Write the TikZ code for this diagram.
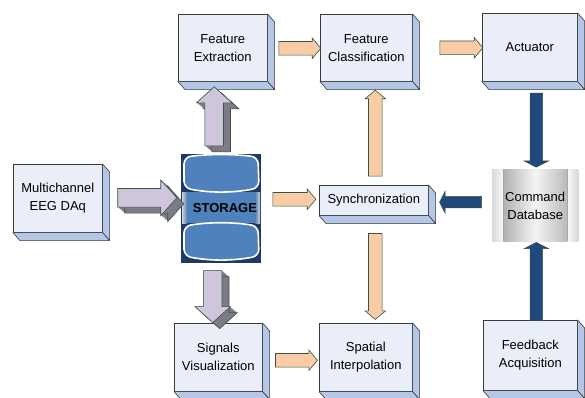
\documentclass[tikz,border=0pt]{standalone}
\usepackage{fontspec}
\setmainfont{Liberation Sans}
\usetikzlibrary{shapes.arrows,calc}
\definecolor{boxface}{HTML}{E9EEF8}
\definecolor{boxside}{HTML}{B4C7E7}
\definecolor{boxline}{HTML}{3A3A3A}
\definecolor{peach}{HTML}{F9CBA7}
\definecolor{arrline}{HTML}{33593A}
\definecolor{navy}{HTML}{1F497D}
\definecolor{gface}{HTML}{CFC6DD}
\definecolor{gside}{HTML}{7E7A88}
\definecolor{stornavy}{HTML}{1F3864}
\definecolor{storblue}{HTML}{4F81BD}
\tikzset{
  box3d/.style={draw=boxline, fill=boxface, line width=0.6pt, align=center,
    font=\fontsize{13}{18}\selectfont, inner sep=0pt, anchor=north west},
  parrow/.style={single arrow, fill=peach, draw=arrline, line width=0.6pt,
    inner sep=6.5pt, single arrow head extend=3.5pt, single arrow tip angle=100},
  narrow/.style={single arrow, fill=navy, draw=arrline, line width=0.5pt,
    inner sep=6pt, single arrow head extend=6pt, single arrow tip angle=126},
  garrow/.style={single arrow, line width=0.6pt,
    inner sep=9pt, single arrow head extend=8.5pt, single arrow tip angle=96},
}
\newcommand\tdarrow[3]{%
  \foreach \t in {0,0.1,...,1.0}{\node[garrow, fill=gside, minimum height=#3, shape border rotate=#2] at ($(#1)+(7*\t,6*\t)$) {};}
  \node[garrow, fill=gside, draw=arrline, minimum height=#3, shape border rotate=#2] at ($(#1)+(7,6)$) {};
  \node[garrow, fill=gface, draw=arrline, minimum height=#3, shape border rotate=#2] at (#1) {};
}
\begin{document}
\begin{tikzpicture}[x=1pt,y=-1pt]
\useasboundingbox[fill=white] (0,0) rectangle (585,398);

% boxes
\node[box3d, minimum width=89pt, minimum height=67pt] (fe) at (178,14) {Feature\\Extraction};
\node[box3d, minimum width=92pt, minimum height=67pt] (fc) at (320,14) {Feature\\Classification};
\node[box3d, minimum width=95pt, minimum height=68pt] (act) at (482,13) {Actuator};
\node[box3d, minimum width=89pt, minimum height=68pt] (eeg) at (13,164) {Multichannel\\EEG DAq};
\node[box3d, minimum width=109pt, minimum height=30pt] (sync) at (319,185) {Synchronization};
\node[box3d, minimum width=88pt, minimum height=68pt] (sv) at (174,323) {Signals\\Visualization};
\node[box3d, minimum width=93pt, minimum height=68pt] (sp) at (319,323) {Spatial\\Interpolation};
\node[box3d, minimum width=94pt, minimum height=70pt] (fb) at (483,320) {Feedback\\Acquisition};

\foreach \n in {fe,fc,act,eeg,sync,sv,sp,fb}{
  \filldraw[fill=boxside, draw=boxline, line width=0.6pt, line join=round]
    (\n.north east) -- ++(7,8) -- ($(\n.south east)+(7,8)$) -- (\n.south east) -- cycle;
  \filldraw[fill=boxside, draw=boxline, line width=0.6pt, line join=round]
    (\n.south west) -- (\n.south east) -- ++(7,8) -- ($(\n.south west)+(7,8)$) -- cycle;
}

% storage
\node[fill=stornavy, minimum width=80pt, minimum height=109pt, inner sep=0pt, anchor=north west] (stor) at (181,154) {};
\fill[storblue] (183,192) rectangle (259,223);
\shade[left color=gray!35, right color=storblue] (182,192) rectangle (187,223);
\shade[left color=storblue, right color=gray!35] (255,192) rectangle (260,223);
\draw[white, line width=1.6pt, fill=storblue, rounded corners=7pt]
  (184,157) .. controls (210,154) and (232,154) .. (258,157) -- (259,188)
  .. controls (232,193) and (210,193) .. (184,188) -- cycle;
\draw[white, line width=1.6pt, fill=storblue, rounded corners=7pt]
  (184,226) .. controls (210,222) and (232,222) .. (258,226) -- (259,256)
  .. controls (232,261) and (210,261) .. (184,256) -- cycle;
\node[font=\bfseries\fontsize{13}{15}\selectfont, inner sep=0pt] (storlbl) at (225,208) {STORAGE};

% command database
\node[minimum width=86pt, minimum height=72pt, inner sep=0pt, anchor=north west] (db) at (492,169) {};
\shade[left color=gray!30, right color=gray!6] (db.north west) rectangle ($(db.south west)+(11,0)$);
\shade[left color=gray!6, right color=gray!32] ($(db.north east)+(-11,0)$) rectangle (db.south east);
\shade[left color=gray!62, right color=gray!55, middle color=gray!8] ($(db.north west)+(11,0)$) rectangle ($(db.south east)+(-11,0)$);
\draw[gray!70, line width=0.4pt] ($(db.north west)+(11,0)$) -- ($(db.south west)+(11,0)$)
  ($(db.north east)+(-11,0)$) -- ($(db.south east)+(-11,0)$);
\node[align=center, font=\fontsize{13}{18}\selectfont, inner sep=0pt] (dblbl) at ($(db.center)+(0,1)$) {Command\\Database};

% peach arrows
\node[parrow, minimum height=42pt] (a1) at ($(fc.west)+(-23,0.5)$) {};
\node[parrow, minimum height=43pt] (a2) at ($(act.west)+(-23.5,0.5)$) {};
\node[parrow, minimum height=43pt] (a3) at ($(sync.west)+(-27.5,-1)$) {};
\node[parrow, minimum height=86pt, shape border rotate=90] (a4) at ($(sync.north)+(1.5,-49)$) {};
\node[parrow, minimum height=86pt, shape border rotate=270] (a5) at ($(sync.south)+(1.5,58)$) {};
\node[parrow, minimum height=42pt] (a6) at ($(sv.east)+(31,3)$) {};

% navy arrows
\node[narrow, minimum height=74pt, shape border rotate=270] (n1) at ($(act.south)+(6.5,47)$) {};
\node[narrow, minimum height=42pt, shape border rotate=180, inner sep=5.5pt, single arrow head extend=5pt] (n2) at ($(db.west)+(-30,-3)$) {};
\node[narrow, minimum height=78pt, shape border rotate=90] (n3) at ($(fb.north)+(6,-37)$) {};

% gray 3d arrows
\coordinate (g1) at ($(eeg.east)+(40.5,-0.5)$);
\coordinate (g2) at ($(stor.north)+(-7,-33.5)$);
\coordinate (g3) at ($(stor.south)+(-8.5,29)$);
\tdarrow{g1}{0}{59pt}
\tdarrow{g2}{90}{59pt}
\tdarrow{g3}{270}{52pt}
\end{tikzpicture}
\end{document}
